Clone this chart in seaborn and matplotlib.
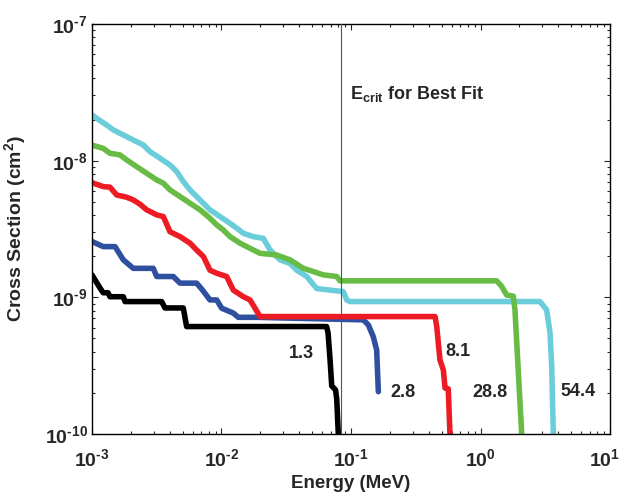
import numpy as np
import pandas as pd
import matplotlib
matplotlib.use("Agg")
import matplotlib.pyplot as plt
import matplotlib.transforms as mtransforms
import seaborn as sns

# ---- data (Energy in MeV, cross section in cm^2) ----
black_e = [1.0e-3, 1.153e-3, 1.222e-3, 1.330e-3, 1.377e-3, 1.746e-3, 1.80e-3, 3.451e-3, 3.66e-3,
           5.07e-3, 5.38e-3, 6.48e-2, 6.65e-2, 6.89e-2, 7.10e-2, 7.60e-2, 7.76e-2, 7.98e-2, 7.98e-2]
black_s = [1.46e-9, 1.17e-9, 1.08e-9, 1.08e-9, 1.01e-9, 1.01e-9, 9.31e-10, 9.31e-10, 8.36e-10,
           8.36e-10, 6.11e-10, 6.11e-10, 5.5e-10, 3.5e-10, 2.25e-10, 2.1e-10, 1.8e-10, 1.0e-10, 5.0e-11]

blue_e = [1.0e-3, 1.222e-3, 1.507e-3, 1.746e-3, 2.084e-3, 2.972e-3, 3.162e-3, 4.246e-3, 4.786e-3,
          6.427e-3, 7.031e-3, 8.147e-3, 9.183e-3, 1.005e-2, 1.233e-2, 1.349e-2, 1.871e-2, 0.1245,
          0.1361, 0.1486, 0.1578, 0.1626]
blue_s = [2.56e-9, 2.35e-9, 2.35e-9, 1.88e-9, 1.63e-9, 1.63e-9, 1.42e-9, 1.42e-9, 1.27e-9,
          1.27e-9, 1.15e-9, 9.57e-10, 9.57e-10, 8.32e-10, 7.67e-10, 7.14e-10, 7.14e-10, 6.84e-10,
          6.28e-10, 5.15e-10, 4.12e-10, 2.04e-10]

red_e = [1.0e-3, 1.222e-3, 1.377e-3, 1.552e-3, 1.854e-3, 2.084e-3, 2.350e-3, 2.642e-3, 3.162e-3,
         3.556e-3, 3.999e-3, 4.786e-3, 5.715e-3, 6.427e-3, 7.244e-3, 8.147e-3, 9.183e-3, 1.096e-2,
         1.233e-2, 1.476e-2, 1.660e-2, 1.816e-2, 1.982e-2, 0.4457, 0.4592, 0.4864, 0.5164, 0.5321,
         0.5636, 0.5808, 0.5808]
red_s = [6.90e-9, 6.46e-9, 6.40e-9, 5.61e-9, 5.40e-9, 5.16e-9, 4.80e-9, 4.37e-9, 4.01e-9,
         3.90e-9, 3.02e-9, 2.78e-9, 2.49e-9, 2.22e-9, 1.99e-9, 1.58e-9, 1.50e-9, 1.42e-9,
         1.13e-9, 1.01e-9, 9.57e-10, 8.32e-10, 7.23e-10, 7.23e-10, 6.11e-10, 3.48e-10, 2.94e-10,
         2.17e-10, 2.14e-10, 1.0e-10, 5.0e-11]

green_e = [1.0e-3, 1.222e-3, 1.377e-3, 1.644e-3, 1.854e-3, 2.213e-3, 2.642e-3, 3.162e-3, 3.556e-3,
           3.999e-3, 4.786e-3, 5.715e-3, 6.823e-3, 8.147e-3, 9.183e-3, 1.033e-2, 1.164e-2, 1.390e-2,
           1.762e-2, 1.982e-2, 2.667e-2, 3.381e-2, 4.285e-2, 6.109e-2, 7.762e-2, 8.222e-2, 1.334,
           1.459, 1.592, 1.791, 1.845, 2.080, 2.080]
green_s = [1.30e-8, 1.23e-8, 1.132e-8, 1.102e-8, 1.012e-8, 9.04e-9, 8.09e-9, 7.23e-9, 6.84e-9,
           6.11e-9, 5.46e-9, 4.88e-9, 4.37e-9, 3.79e-9, 3.39e-9, 3.11e-9, 2.78e-9, 2.49e-9,
           2.22e-9, 2.10e-9, 2.04e-9, 1.88e-9, 1.63e-9, 1.46e-9, 1.42e-9, 1.32e-9, 1.32e-9,
           1.20e-9, 1.04e-9, 1.02e-9, 8.09e-10, 1.0e-10, 5.0e-11]

cyan_e = [1.0e-3, 1.086e-3, 1.297e-3, 1.462e-3, 1.746e-3, 2.084e-3, 2.489e-3, 2.805e-3, 3.350e-3,
          3.999e-3, 4.508e-3, 5.070e-3, 5.715e-3, 6.823e-3, 8.147e-3, 9.727e-3, 1.164e-2, 1.309e-2,
          1.476e-2, 1.762e-2, 2.104e-2, 2.371e-2, 2.831e-2, 3.381e-2, 3.811e-2, 4.550e-2, 5.433e-2,
          6.887e-2, 8.730e-2, 9.268e-2, 9.817e-2, 2.877, 3.243, 3.443, 3.548, 3.648, 3.648]
cyan_s = [2.158e-8, 2.042e-8, 1.824e-8, 1.679e-8, 1.542e-8, 1.416e-8, 1.303e-8, 1.164e-8, 1.042e-8,
          9.31e-9, 8.32e-9, 7.03e-9, 6.11e-9, 5.16e-9, 4.37e-9, 3.90e-9, 3.48e-9, 3.21e-9,
          2.94e-9, 2.78e-9, 2.70e-9, 2.22e-9, 1.88e-9, 1.77e-9, 1.58e-9, 1.42e-9, 1.16e-9,
          1.13e-9, 1.10e-9, 9.57e-10, 9.31e-10, 9.31e-10, 8.09e-10, 5.46e-10, 3.11e-10, 1.0e-10, 5.0e-11]

series_names = ["54.4", "28.8", "2.8", "8.1", "1.3"]
series_colors = ["#6ccdda", "#68bb45", "#2f4f9f", "#ed1c24", "#000000"]
series_data = [(cyan_e, cyan_s), (green_e, green_s), (blue_e, blue_s), (red_e, red_s), (black_e, black_s)]

label_pos_e = [5.66, 1.18, 0.252, 0.670, 0.0416]
label_pos_s = [2.04e-10, 2.0e-10, 2.0e-10, 4.0e-10, 3.9e-10]

e_crit = 0.083

x_ticks = [1e-3, 1e-2, 1e-1, 1e0, 1e1]
x_tick_labels = [r"$10^{\text{-}3}$", r"$10^{\text{-}2}$", r"$10^{\text{-}1}$", r"$10^{0}$", r"$10^{1}$"]
y_ticks = [1e-10, 1e-9, 1e-8, 1e-7]
y_tick_labels = [r"$10^{\text{-}10}$", r"$10^{\text{-}9}$", r"$10^{\text{-}8}$", r"$10^{\text{-}7}$"]

# ---- build table ----
frames = []
for name, (e, s) in zip(series_names, series_data):
    frames.append(pd.DataFrame({"energy": e, "xs": s, "series": name}))
df = pd.concat(frames, ignore_index=True)

sns.set_theme(style="ticks")
plt.rcParams["font.family"] = ["Liberation Sans", "DejaVu Sans"]
plt.rcParams["font.weight"] = "bold"
plt.rcParams["mathtext.fontset"] = "custom"
plt.rcParams["mathtext.rm"] = "Liberation Sans:bold"
plt.rcParams["mathtext.bf"] = "Liberation Sans:bold"
plt.rcParams["mathtext.it"] = "Liberation Sans:bold"

fig = plt.figure(figsize=(6.24, 4.94), dpi=100)
ax = fig.add_axes([0.1474, 0.1215, 0.8302, 0.8299])

sns.lineplot(data=df, x="energy", y="xs", hue="series", hue_order=series_names,
             palette=dict(zip(series_names, series_colors)), sort=False, estimator=None,
             units="series", legend=False, ax=ax, lw=4.0,
             solid_capstyle="round", solid_joinstyle="round")

ax.axvline(e_crit, color="#555555", lw=0.8, zorder=10)

ax.set_xscale("log")
ax.set_yscale("log")
ax.set_xlim(1e-3, 10)
ax.set_ylim(1e-10, 1e-7)
ax.set_xticks(x_ticks)
ax.set_xticklabels(x_tick_labels, fontsize=14)
ax.set_yticks(y_ticks)
ax.set_yticklabels(y_tick_labels, fontsize=14)
ax.tick_params(which="both", direction="in", top=True, right=True, width=0.8)
ax.tick_params(which="major", length=4)
ax.tick_params(axis="x", which="major", pad=10)
ax.tick_params(axis="y", which="major", pad=3)
ax.tick_params(which="minor", length=2.5)
for sp in ax.spines.values():
    sp.set_linewidth(1.0)
    sp.set_color("black")

# nudge the rightmost x tick label so it stays inside the figure
last_lab = ax.get_xticklabels()[-1]
last_lab.set_transform(last_lab.get_transform() +
                       mtransforms.ScaledTranslation(-4 / 72, 0, fig.dpi_scale_trans))

ax.set_xlabel("Energy (MeV)", fontsize=13.5, fontweight="bold", labelpad=4)
ax.set_ylabel(r"Cross Section (cm$^{2}$)", fontsize=14, fontweight="bold", labelpad=12)

for name, xe, ys in zip(series_names, label_pos_e, label_pos_s):
    ax.text(xe, ys, name, ha="center", va="center", fontsize=13, fontweight="bold")

ax.text(0.098, 3.1e-8, r"E$_{\mathrm{crit}}$ for Best Fit", ha="left", va="center",
        fontsize=13, fontweight="bold")

fig.savefig("out.png", dpi=100)
